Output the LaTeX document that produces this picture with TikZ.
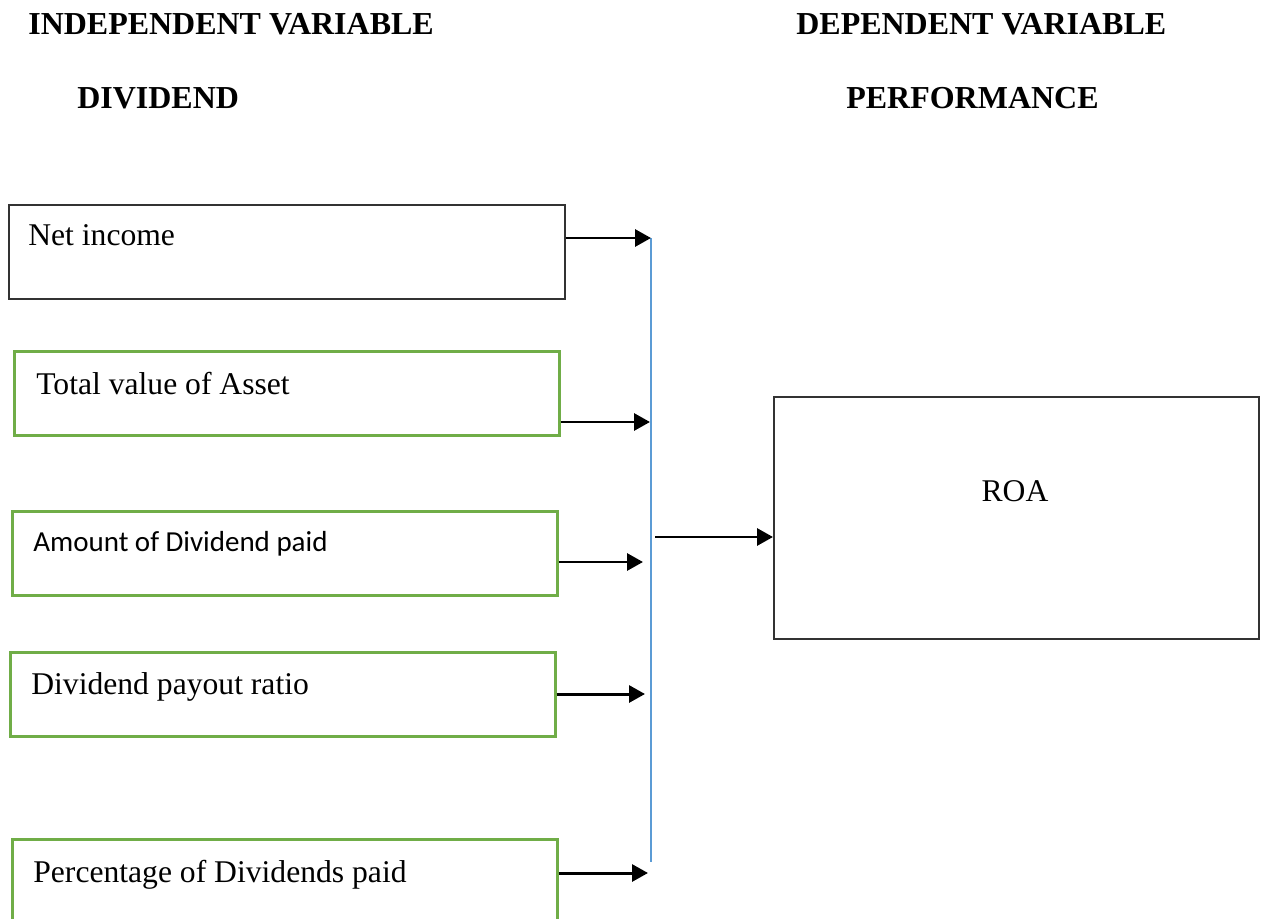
\documentclass[tikz,border=0pt]{standalone}
\usepackage{fontspec}
\setmainfont{Liberation Serif}
\newfontfamily\calibrifont{Carlito}
\usetikzlibrary{arrows.meta}

\definecolor{boxgreen}{RGB}{112,173,71}
\definecolor{barblue}{RGB}{91,155,213}

\tikzset{
  varbox/.style={draw=boxgreen, line width=1.5pt, anchor=north west, inner sep=0,
                 minimum width=10.9cm, minimum height=1.68cm},
  plainbox/.style={draw=black!80, line width=1pt, anchor=north west, inner sep=0},
  boxtext/.style={anchor=base west, inner sep=0, font=\fontsize{18}{21}\selectfont},
  heading/.style={anchor=base west, inner sep=0, font=\fontsize{18.2}{21}\selectfont\bfseries},
  feed/.style={line width=1.7pt, -{Triangle[length=0.32cm,width=0.34cm]}}
}

\begin{document}
\begin{tikzpicture}[x=0.02cm,y=-0.02cm]
\useasboundingbox (0,0) rectangle (1261,919);

% Headings:
\node [heading] (indep) at (28,35)  {INDEPENDENT VARIABLE};
\node [heading] (dep)   at (796,35) {DEPENDENT VARIABLE};
\node [heading] (divh)  at (77,109) {DIVIDEND};
\node [heading] (perfh) at (846,109) {PERFORMANCE};

% Boxes
\node [plainbox, minimum width=11.12cm, minimum height=1.88cm] (net) at (8,204) {};
\node [boxtext] (nettxt) at (28,245) {Net income};

\node [varbox] (asset) at (13,350) {};
\node [boxtext] (assettxt) at (36,394) {Total value of Asset};

\node [varbox] (amount) at (11,510) {};
\node [boxtext, font=\calibrifont\fontsize{16.5}{19}\selectfont] (amounttxt) at (33,551) {Amount of Dividend paid};

\node [varbox] (payout) at (9,651) {};
\node [boxtext] (payouttxt) at (31,694) {Dividend payout ratio};

\node [varbox] (percent) at (11,838) {};
\node [boxtext] (percenttxt) at (33,882) {Percentage of Dividends paid};

\node [plainbox, minimum width=9.7cm, minimum height=4.84cm] (roa) at (773,396) {};
\node [boxtext, anchor=base] (roatxt) at (1015,501) {ROA};

% Collecting line
\coordinate (bartop) at (651,238);
\coordinate (barbot) at (651,862);
\draw [barblue, line width=0.6pt] (bartop) -- (barbot);

\coordinate (in1) at (651,238);
\coordinate (in2) at (650,422);
\coordinate (in3) at (643,562);
\coordinate (in4) at (645,694);
\coordinate (in5) at (648,873);
\coordinate (out) at (655,537);

% Arrows
\draw [feed] (net.east |- in1) -- (in1);
\draw [feed] (asset.east |- in2) -- (in2);
\draw [feed] (amount.east |- in3) -- (in3);
\draw [feed] (payout.east |- in4) -- (in4);
\draw [feed] (percent.east |- in5) -- (in5);
\draw [feed] (out) -- (roa.west |- out);

\end{tikzpicture}
\end{document}
